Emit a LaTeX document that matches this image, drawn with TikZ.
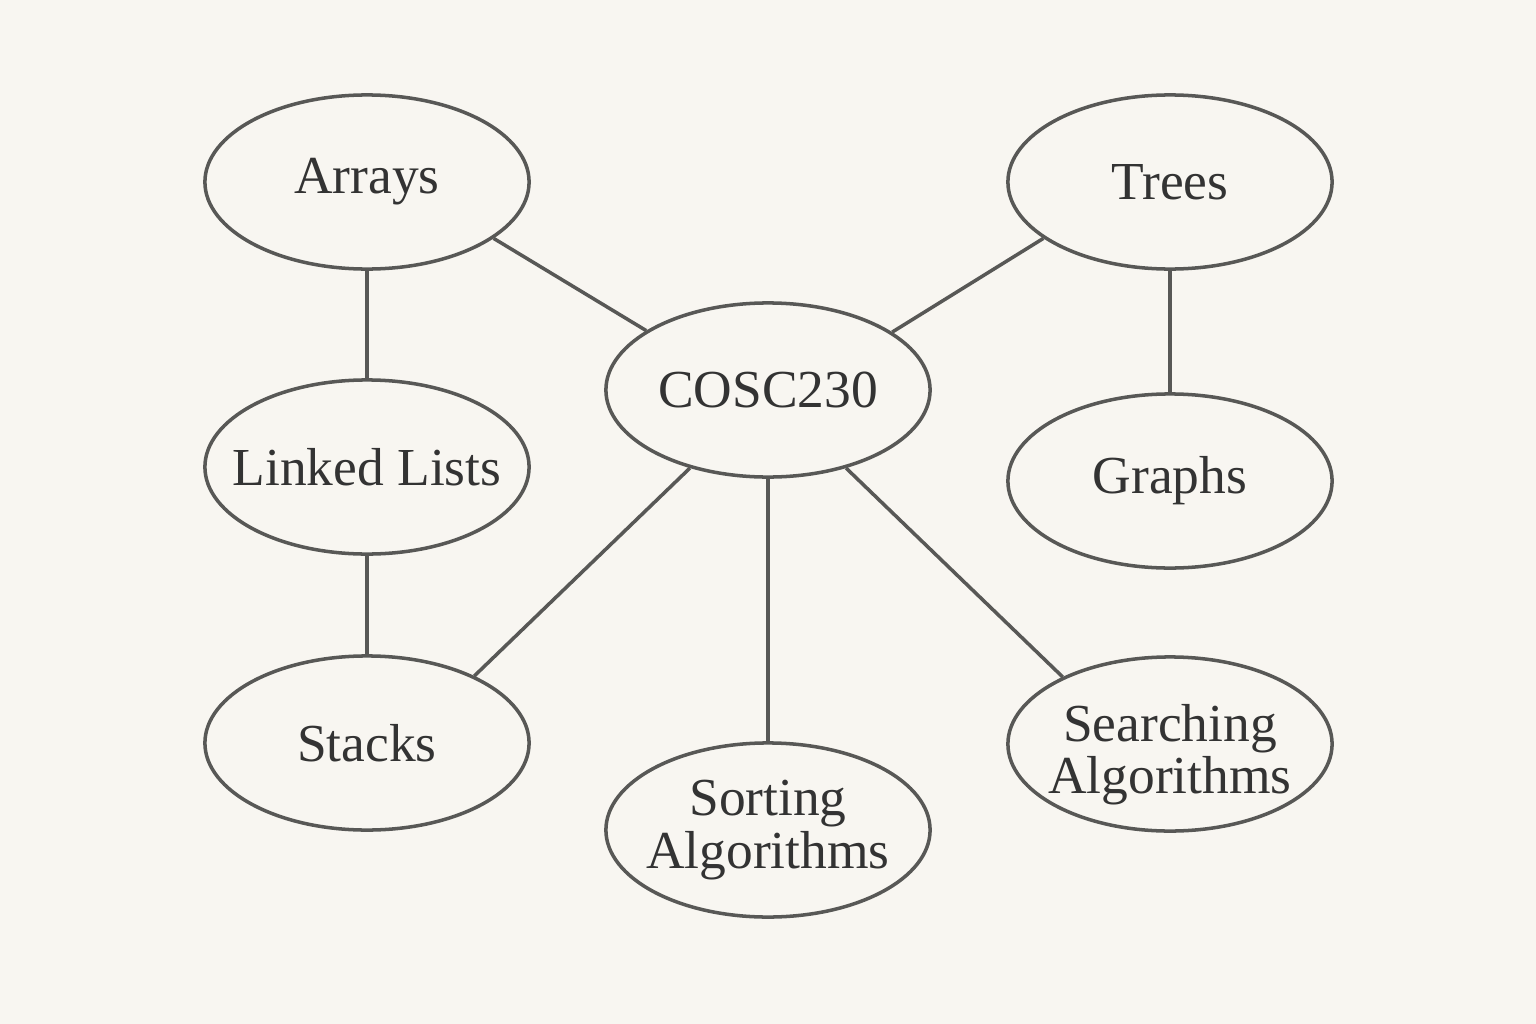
\documentclass[tikz,border=0pt]{standalone}
\usepackage{fontspec}
\setmainfont{Liberation Serif}
\usetikzlibrary{shapes.geometric}
\usetikzlibrary{backgrounds}

\definecolor{paper}{HTML}{F8F6F1}
\definecolor{ink}{HTML}{585856}
\definecolor{txt}{HTML}{333333}

\begin{document}
\begin{tikzpicture}[x=0.01cm, y=-0.01cm, background rectangle/.style={fill=paper}, show background rectangle, inner frame sep=0pt]
		\tikzstyle{topic}=[ellipse, draw=ink, line width=1pt, minimum width=3.24cm, minimum height=1.74cm, inner sep=0pt]
		\tikzstyle{word}=[text=txt, align=center, font=\fontsize{15.2}{13.3}\selectfont]
		\tikzstyle{connect}=[draw=ink, line width=1pt]
		\useasboundingbox (0,0) rectangle (1536,1024);
		\node[topic, label={[word]center:COSC230}] (cosc) at (768,390) {};
		\node[topic, label={[word]center:Arrays}] (arrays) at (367,182) {};
		\node[topic, label={[word]center:Linked Lists}] (lists) at (367,467) {};
		\node[topic, label={[word]center:Stacks}] (stacks) at (367,743) {};
		\node[topic, label={[word]center:Trees}] (trees) at (1170,182) {};
		\node[topic, label={[word]center:Graphs}] (graphs) at (1170,481) {};
		\node[topic, label={[word]center:Sorting\\Algorithms}] (sorting) at (768,830) {};
		\node[topic, label={[word, yshift=-3pt]center:Searching\\Algorithms}] (searching) at (1170,744) {};
		\path
		(arrays) edge [connect] (lists)
		(lists) edge [connect] (stacks)
		(trees) edge [connect] (graphs)
		(arrays.336) edge [connect] (cosc.154)
		(trees.204) edge [connect] (cosc.25)
		(cosc.225) edge [connect] (stacks.32)
		(cosc) edge [connect] (sorting)
		(cosc.315) edge [connect] (searching.148)
		;
	\end{tikzpicture}
\end{document}
